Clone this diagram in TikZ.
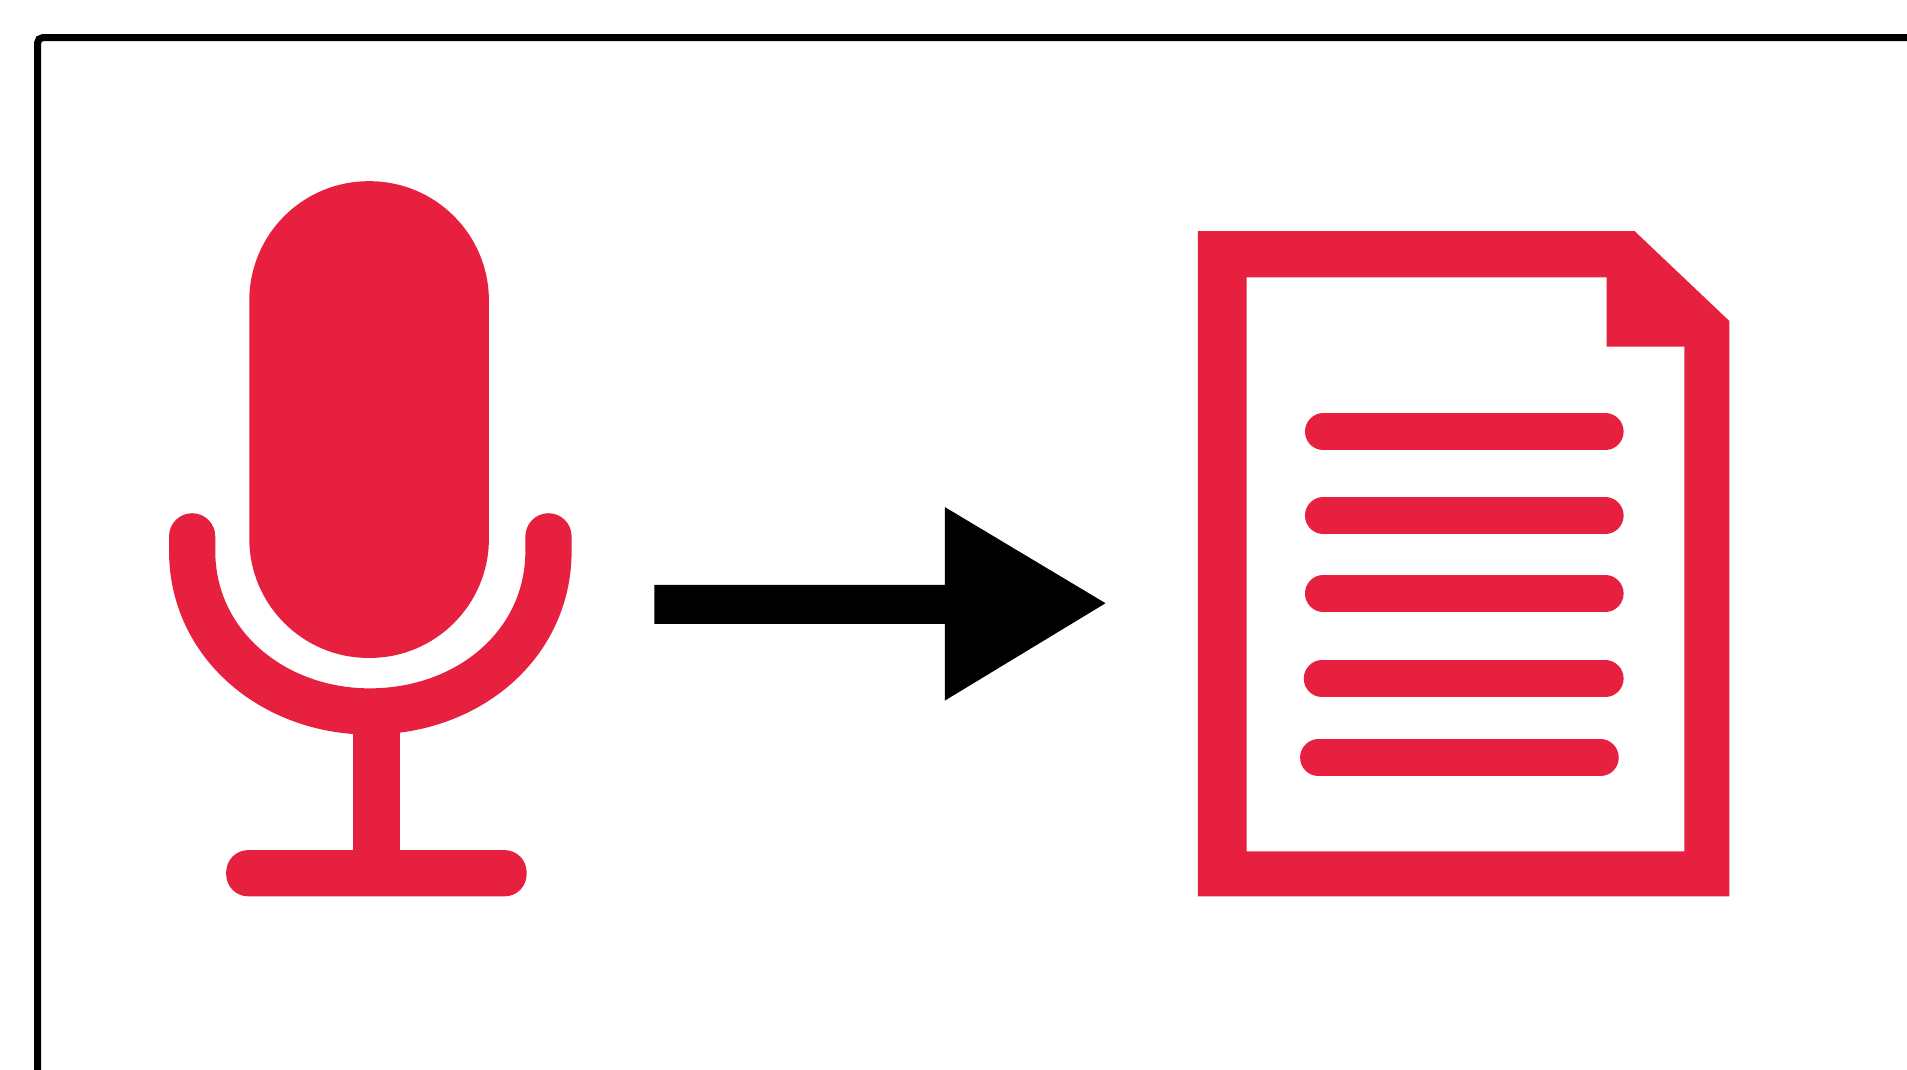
\documentclass[tikz,border=0pt]{standalone}
\usepackage{tikz}
\definecolor{micred}{RGB}{230,32,62}

\begin{document}
\begin{tikzpicture}[
        x=0.01cm, y=-0.01cm,
        frameline/.style={draw=black, line width=0.058cm, rounded corners=0.04cm},
        solidred/.style={fill=micred, draw=none},
        redline/.style={draw=micred, line cap=round},
        textline/.style={redline, line width=0.3cm}
    ]
    \useasboundingbox (0,0) rectangle (1568,879);

    % Frame
    \draw[frameline] (31,900) -- (31,31) -- (1600,31);

    % Microphone
    \fill[solidred, rounded corners=0.98cm] (205,149) rectangle (402,541);
    \draw[redline, line width=0.38cm] (158,441) -- (158,453) .. controls (158,530) and (225,585) .. (304,585) .. controls (385,585) and (451,530) .. (451,453) -- (451,441);
    \fill[solidred] (290,590) rectangle (329,710);
    \fill[solidred, rounded corners=0.18cm] (186,699) rectangle (433,737);

    % Arrow
    \fill[black] (538,481) -- (777,481) -- (777,417) -- (909,496) -- (777,576) -- (777,513) -- (538,513) -- cycle;

    % Document
    \fill[solidred, even odd rule] (985,190) -- (1344,190) -- (1422,264) -- (1422,737) -- (985,737) -- cycle
        (1025,228) -- (1025,700) -- (1385,700) -- (1385,285) -- (1321,285) -- (1321,228) -- cycle;

    % Text lines
    \draw[textline] (1088,355) -- (1320,355);
    \draw[textline] (1088,424) -- (1320,424);
    \draw[textline] (1088,488) -- (1320,488);
    \draw[textline] (1087,558) -- (1320,558);
    \draw[textline] (1084,623) -- (1316,623);
\end{tikzpicture}
\end{document}
